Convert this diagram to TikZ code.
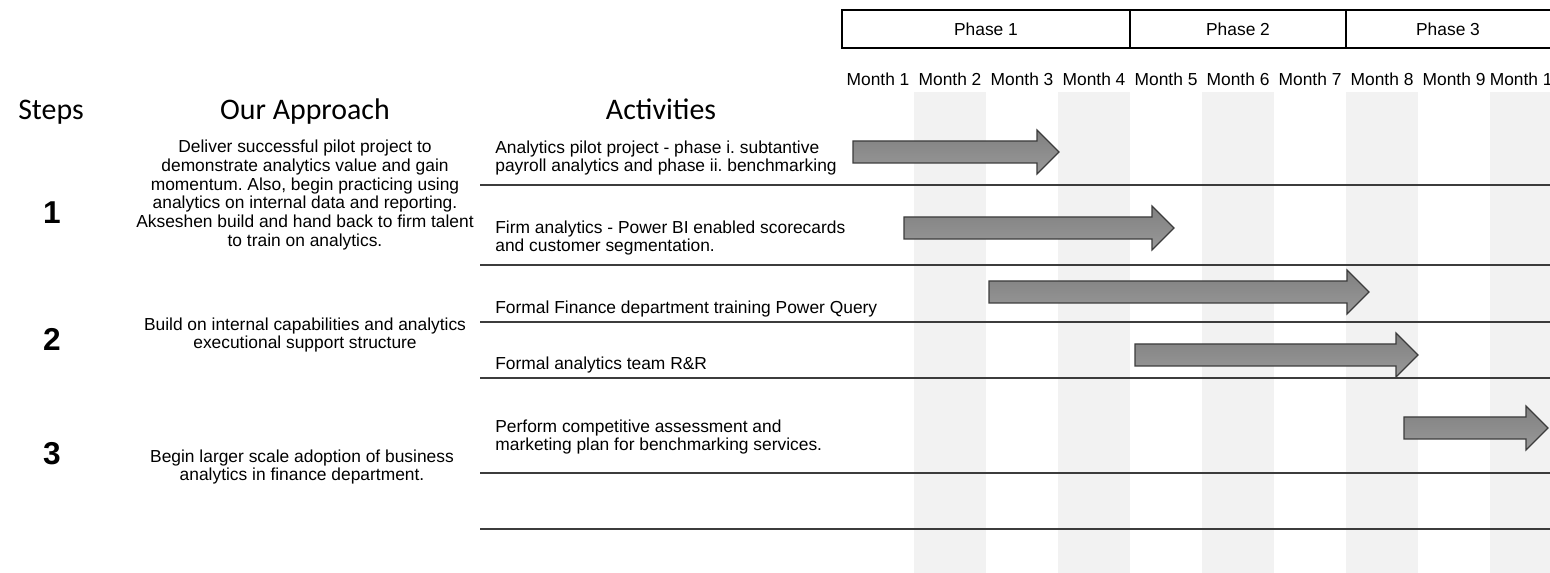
\documentclass[tikz,border=0pt]{standalone}
\usepackage{fontspec}
\setmainfont{Liberation Sans}
\newfontfamily\headfont{Carlito}
\usepackage{tikz}
\frenchspacing

\definecolor{bandgray}{HTML}{F2F2F2}
\definecolor{linegray}{HTML}{3C3C3C}
\definecolor{arrowtop}{HTML}{808080}
\definecolor{arrowbottom}{HTML}{999999}

\tikzset{
    plain/.style={inner sep=0pt, font=\fontsize{9.9}{10.8}\selectfont},
    heading/.style={inner sep=0pt, anchor=base, font=\headfont\fontsize{17}{20}\selectfont},
    stepnum/.style={inner sep=0pt, font=\bfseries\fontsize{18}{20}\selectfont},
    rowline/.style={draw=linegray, line width=0.8pt},
    bararrow/.style={draw=linegray, line width=0.7pt, top color=arrowtop, bottom color=arrowbottom},
}

\begin{document}
\begin{tikzpicture}[x=0.02cm, y=-0.02cm]
    \useasboundingbox (0,0) rectangle (1550,573);
    \clip (0,0) rectangle (1550,573);
    % Month bands
    \foreach \i in {0,...,4} {
        \fill[bandgray] (914+144*\i,92) rectangle (986+144*\i,573);
    }
    % Phase header
    \draw[line width=1.2pt] (842,10) rectangle (1570,48);
    \foreach \x in {1130,1346} {
        \draw[line width=1.2pt] (\x,10) -- (\x,48);
    }
    \foreach \name/\i/\x in {Phase 1/1/986, Phase 2/2/1238, Phase 3/3/1448} {
        \node[plain] (Phase-\i) at (\x,29) {\name};
    }
    % Months
    \foreach \i in {1,...,10} {
        \node[plain] (Month-\i) at (878+72*\i-72,79) {Month \i};
    }
    % Headings
    \node[heading] (Steps) at (51,120) {Steps};
    \node[heading] (Approach) at (305,120) {Our Approach};
    \node[heading] (Activities) at (661,120) {Activities};
    % Steps
    \foreach \i/\y in {1/213,2/339,3/454} {
        \node[stepnum] (Step-\i) at (52,\y) {\i};
    }
    % Approach
    \node[plain, align=center] (Approach-1) at (305,195) {Deliver successful pilot project to\\demonstrate analytics value and gain\\momentum. Also, begin practicing using\\analytics on internal data and reporting.\\Akseshen build and hand back to firm talent\\to train on analytics.};
    \node[plain, align=center] (Approach-2) at (305,335) {Build on internal capabilities and analytics\\executional support structure};
    \node[plain, align=center] (Approach-3) at (302,467) {Begin larger scale adoption of business\\analytics in finance department.};
    % Activities
    \node[plain, align=left, anchor=west] (Activity-1) at (495,158) {Analytics pilot project - phase i. subtantive\\payroll analytics and phase ii. benchmarking};
    \node[plain, align=left, anchor=west] (Activity-2) at (495,238) {Firm analytics - Power BI enabled scorecards\\and customer segmentation.};
    \node[plain, align=left, anchor=west] (Activity-3) at (495,309) {Formal Finance department training Power Query};
    \node[plain, align=left, anchor=west] (Activity-4) at (495,365) {Formal analytics team R\&R};
    \node[plain, align=left, anchor=west] (Activity-5) at (495,437) {Perform competitive assessment and\\marketing plan for benchmarking services.};
    % Rows
    \foreach \y in {185,265,322,378,473,529} {
        \draw[rowline] (480,\y) -- (1550,\y);
    }
    % Arrows
    \foreach \xs/\xe/\y in {853/1059/152,904/1174/228,989/1369/292,1135/1418/355,1404/1548/428} {
        \draw[bararrow] (\xs,\y-11) -- (\xe-22,\y-11) -- (\xe-22,\y-22) -- (\xe,\y)
            -- (\xe-22,\y+22) -- (\xe-22,\y+11) -- (\xs,\y+11) -- cycle;
    }
\end{tikzpicture}
\end{document}
